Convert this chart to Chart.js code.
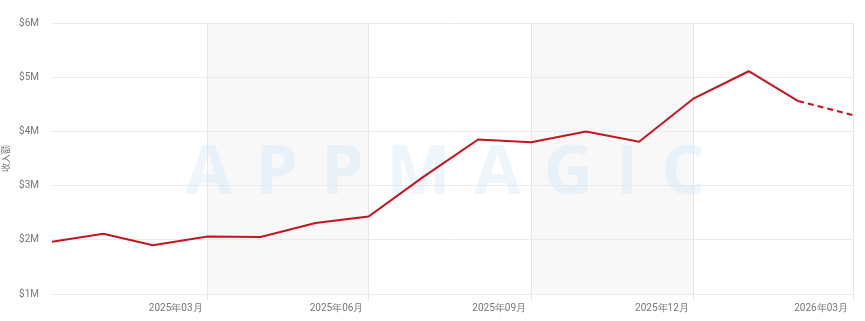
<!DOCTYPE html>
<html>
<head>
<meta charset="utf-8">
<script src="https://cdn.jsdelivr.net/npm/chart.js@4/dist/chart.umd.min.js"></script>
<style>
  html, body { margin: 0; padding: 0; background: #fff; }
  #wrap { width: 865px; height: 321px; position: relative; }
</style>
</head>
<body>
<div id="wrap"><canvas id="c"></canvas></div>
<script>
// monthly data points (plotted at month end on a day-proportional axis)
const dates = ['2024-12-31','2025-01-31','2025-02-28','2025-03-31','2025-04-30','2025-05-31','2025-06-30','2025-07-31','2025-08-31','2025-09-30','2025-10-31','2025-11-30','2025-12-31','2026-01-31','2026-02-28','2026-03-31'];
const revenue = [1.955e6, 2.11e6, 1.90e6, 2.06e6, 2.05e6, 2.31e6, 2.43e6, 3.16e6, 3.85e6, 3.80e6, 4.00e6, 3.81e6, 4.61e6, 5.11e6, 4.56e6, 4.30e6];
const forecastFrom = '2026-02-28'; // segment after this date is dashed (estimate)
const tickDates = ['2025-03-31','2025-06-30','2025-09-30','2025-12-31','2026-03-31'];
const tickLabels = ['2025年03月','2025年06月','2025年09月','2025年12月','2026年03月'];
const shadedRanges = [['2025-03-31','2025-06-30'], ['2025-09-30','2025-12-31']];
const axisStart = '2025-01-02';
const axisEnd = '2026-03-31';
const yTicks = [1e6, 2e6, 3e6, 4e6, 5e6, 6e6];

const day = s => Date.UTC(+s.slice(0,4), +s.slice(5,7) - 1, +s.slice(8,10)) / 86400000;
const points = dates.map((d, i) => ({ x: day(d), y: revenue[i] }));
const forecastIdx = dates.indexOf(forecastFrom);

const bandsPlugin = {
  id: 'bands',
  beforeDraw(chart) {
    const {ctx, chartArea, scales} = chart;
    ctx.save();
    ctx.fillStyle = '#f8f8f9';
    shadedRanges.forEach(([a, b]) => {
      const x1 = scales.x.getPixelForValue(day(a));
      const x2 = scales.x.getPixelForValue(day(b));
      ctx.fillRect(x1, chartArea.top, x2 - x1, chartArea.bottom - chartArea.top);
    });
    ctx.restore();
  }
};

const watermarkPlugin = {
  id: 'watermark',
  beforeDatasetsDraw(chart) {
    const {ctx} = chart;
    const text = 'APPMAGIC';
    ctx.save();
    ctx.font = 'bold 68px "Open Sans", sans-serif';
    ctx.fillStyle = 'rgba(205, 228, 245, 0.35)';
    ctx.textBaseline = 'alphabetic';
    const spacing = 23;
    let total = 0;
    const widths = [...text].map(ch => ctx.measureText(ch).width);
    widths.forEach(w => total += w);
    total += spacing * (text.length - 1);
    let x = 445 - total / 2;
    const y = 194;
    [...text].forEach((ch, i) => { ctx.fillText(ch, x, y); x += widths[i] + spacing; });
    ctx.restore();
  }
};

new Chart(document.getElementById('c'), {
  type: 'line',
  data: {
    datasets: [{
      data: points,
      borderColor: '#c5141d',
      borderWidth: 2,
      pointRadius: 0,
      tension: 0,
      fill: false,
      clip: { left: 0, right: 2, top: 2, bottom: 2 },
      segment: {
        borderDash: ctx => ctx.p0DataIndex >= forecastIdx ? [6, 4] : undefined
      }
    }]
  },
  options: {
    responsive: true,
    maintainAspectRatio: false,
    animation: false,
    layout: { padding: { left: 0, right: 12, top: 23, bottom: 5 } },
    plugins: { legend: { display: false }, tooltip: { enabled: false } },
    scales: {
      x: {
        type: 'linear',
        min: day(axisStart),
        max: day(axisEnd),
        border: { display: false },
        afterBuildTicks: axis => { axis.ticks = tickDates.map(d => ({ value: day(d) })); },
        grid: { color: '#e6e6e6', tickLength: 6 },
        ticks: {
          autoSkip: false,
          maxRotation: 0,
          align: 'end',
          padding: 2,
          color: '#777',
          font: { family: 'Roboto', size: 10 },
          callback: (v, i) => tickLabels[i] + '\u2002'
        }
      },
      y: {
        min: 1e6,
        max: 6e6,
        border: { display: false },
        afterBuildTicks: axis => { axis.ticks = yTicks.map(v => ({ value: v })); },
        grid: { color: '#ebebeb', drawTicks: false },
        title: { display: true, text: '收入额', color: '#777', font: { family: 'Noto Sans CJK SC', size: 9 }, padding: { top: 0, bottom: 0 } },
        ticks: {
          padding: 13,
          color: '#777',
          font: { family: 'Roboto', size: 10 },
          callback: v => '$' + (v / 1e6) + 'M'
        },
        afterFit: axis => { axis.width = 52; }
      }
    }
  },
  plugins: [bandsPlugin, watermarkPlugin]
});
</script>
</body>
</html>
